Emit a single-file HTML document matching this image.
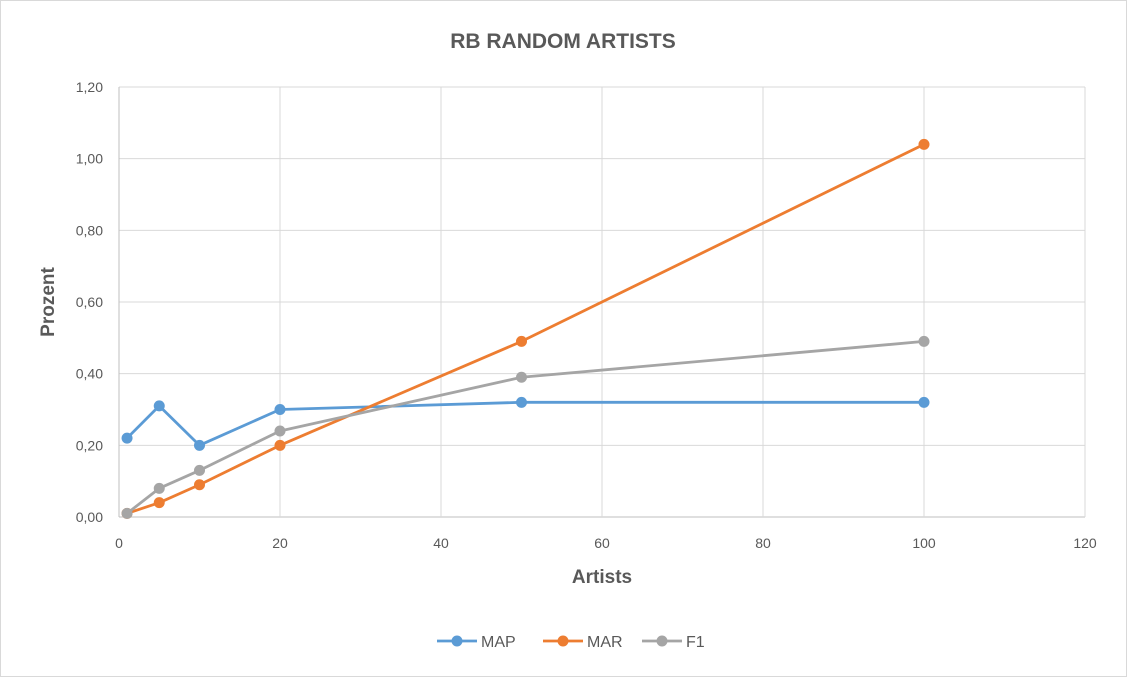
<!DOCTYPE html>
<html><head><meta charset="utf-8"><style>
body{margin:0;background:#fff;font-family:"Liberation Sans",sans-serif}
svg text{font-family:"Liberation Sans",sans-serif}
</style></head><body>
<svg id="c" width="1127" height="677">
<rect x="0.5" y="0.5" width="1126" height="676" fill="#fff" stroke="#d9d9d9"/>
<text x="563" y="48" text-anchor="middle" font-size="21" font-weight="bold" fill="#595959">RB RANDOM ARTISTS</text>
<text transform="translate(54,302) rotate(-90)" text-anchor="middle" font-size="19" font-weight="bold" fill="#595959">Prozent</text>
<text x="602" y="583" text-anchor="middle" font-size="19" font-weight="bold" fill="#595959">Artists</text>
<g id="grid"></g><g id="series"></g><g id="legend"></g>
</svg>
<script>
const xValues=[1,5,10,20,50,100];
const mapValues=[0.22,0.31,0.20,0.30,0.32,0.32];
const marValues=[0.01,0.04,0.09,0.20,0.49,1.04];
const f1Values=[0.01,0.08,0.13,0.24,0.39,0.49];
const xTicks=[0,20,40,60,80,100,120];
const yTicks=[0,0.2,0.4,0.6,0.8,1.0,1.2];
const seriesNames=["MAP","MAR","F1"];
const NS="http://www.w3.org/2000/svg";
const X0=119,X1=1085,Y0=517,Y1=87;
const sx=v=>X0+(v-0)/(120-0)*(X1-X0);
const sy=v=>Y0-(v-0)/(1.2-0)*(Y0-Y1);
function mk(tag,attrs,parent){const e=document.createElementNS(NS,tag);for(const k in attrs)e.setAttribute(k,attrs[k]);parent.appendChild(e);return e;}
const grid=document.getElementById('grid');
yTicks.forEach(t=>{
 const l=mk('line',{x1:X0,x2:X1,y1:sy(t),y2:sy(t),stroke:t===0?'#bfbfbf':'#d9d9d9','stroke-width':1},grid);
 
 
 const tx=mk('text',{x:103,y:sy(t)+5,'text-anchor':'end','font-size':14,fill:'#595959'},grid);
 tx.textContent=t.toFixed(2).replace('.',',');
 
 
});
xTicks.forEach(t=>{
 const l=mk('line',{x1:sx(t),x2:sx(t),y1:Y1,y2:Y0,stroke:t===0?'#bfbfbf':'#d9d9d9','stroke-width':1},grid);
 
 
 const tx=mk('text',{x:sx(t),y:548,'text-anchor':'middle','font-size':14,fill:'#595959'},grid);
 tx.textContent=t;
 
 
});
const colors=["#5b9bd5","#ed7d31","#a5a5a5"];
const data=[mapValues,marValues,f1Values];
const sg=document.getElementById('series');
data.forEach((vals,i)=>{
 const g=mk('g',{},sg);
 
 
 const pts=vals.map((v,j)=>sx(xValues[j])+','+sy(v)).join(' ');
 const pl=mk('polyline',{points:pts,fill:'none',stroke:colors[i],'stroke-width':2.8,'stroke-linejoin':'round'},g);
 
 
 vals.forEach((v,j)=>{
  const c=mk('circle',{cx:sx(xValues[j]),cy:sy(v),r:5.5,fill:colors[i]},g);
  
  
 });
});
const lg=document.getElementById('legend');
const lx=[437,543,642];
seriesNames.forEach((n,i)=>{
 const g=mk('g',{},lg);
 
 
 mk('line',{x1:lx[i],x2:lx[i]+40,y1:641,y2:641,stroke:colors[i],'stroke-width':2.8},g);
 mk('circle',{cx:lx[i]+20,cy:641,r:5.5,fill:colors[i]},g);
 const t=mk('text',{x:lx[i]+44,y:647,'font-size':16,fill:'#595959'},g);
 t.textContent=n;
});
</script>
</body></html>
